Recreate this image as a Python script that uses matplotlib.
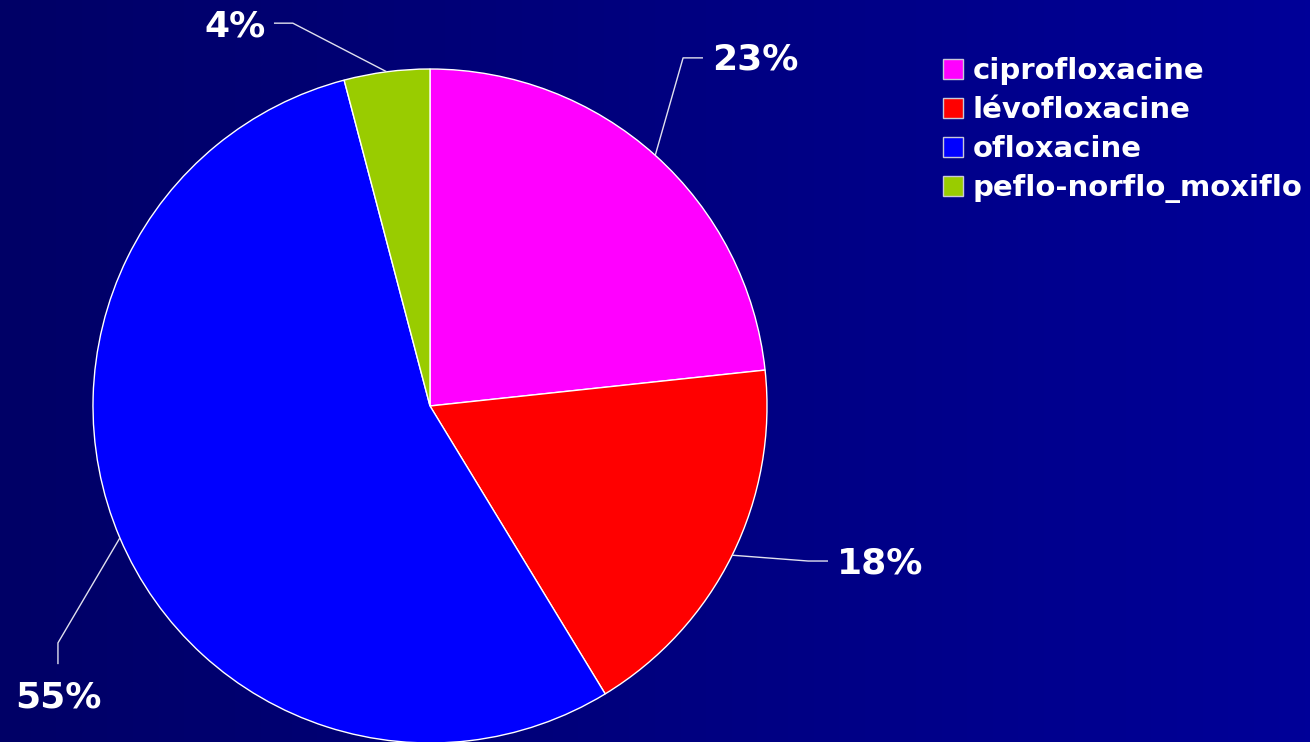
import numpy as np
import matplotlib
matplotlib.use("Agg")
import matplotlib.pyplot as plt
from matplotlib.patches import Patch
from matplotlib.colors import LinearSegmentedColormap

# ---- data ----
categories = ["ciprofloxacine", "lévofloxacine", "ofloxacine", "peflo-norflo_moxiflo"]
shares = [23.3, 18.0, 54.6, 4.1]
pct_labels = ["23%", "18%", "55%", "4%"]
colors = ["#FF00FF", "#FF0000", "#0000FF", "#99CC00"]

# label layout (data units, pie radius = 1): text centre, elbow, line end near text
text_pos = [(0.964, 1.027), (1.335, -0.466), (-1.104, -0.864), (-0.579, 1.125)]
elbow_pos = [(0.751, 1.033), (1.122, -0.460), (-1.104, -0.703), (-0.407, 1.136)]
end_pos = [(0.810, 1.033), (1.181, -0.460), (-1.104, -0.766), (-0.463, 1.136)]

W, H = 1310, 742
fig = plt.figure(figsize=(W / 100, H / 100), dpi=100)

# background gradient
bg = fig.add_axes([0, 0, 1, 1])
grad = np.linspace(0, 1, 256).reshape(1, -1)
cmap = LinearSegmentedColormap.from_list("bg", ["#000066", "#000098"])
bg.imshow(grad, aspect="auto", cmap=cmap, extent=[0, 1, 0, 1])
bg.set_axis_off()

ax = fig.add_axes([0, 0, 1, 1])
ax.set_axis_off()
cx, cy, R = 430, 406, 337

wedges, _ = ax.pie(shares, colors=colors, startangle=90, counterclock=False,
                   radius=1.0, center=(0, 0),
                   wedgeprops=dict(edgecolor="white", linewidth=1.0))
ax.set_aspect("equal", adjustable="datalim")
ax.set_xlim(-cx / R, (W - cx) / R)
ax.set_ylim(-(H - cy) / R, cy / R)

for w, lab, tp, ep, en in zip(wedges, pct_labels, text_pos, elbow_pos, end_pos):
    mid = np.deg2rad((w.theta1 + w.theta2) / 2)
    ax_pt = (np.cos(mid), np.sin(mid))
    ax.plot([ax_pt[0], ep[0], en[0]], [ax_pt[1], ep[1], en[1]],
            color="#e0e0ee", lw=1.0, solid_capstyle="butt")
    ax.text(tp[0], tp[1], lab, color="white", fontsize=26, fontweight="bold",
            family="DejaVu Sans", ha="center", va="center")

handles = [Patch(facecolor=c, edgecolor="#c8c8d8", linewidth=1.0) for c in colors]
leg = fig.legend(handles, categories, loc="upper left",
                 bbox_to_anchor=(943 / W, 1 - 57 / H), frameon=False,
                 prop=dict(family="DejaVu Sans", weight="bold", size=21),
                 handlelength=0.68, handleheight=0.68, handletextpad=0.33,
                 labelspacing=0.38, borderpad=0, borderaxespad=0)
for t in leg.get_texts():
    t.set_color("white")

fig.savefig("out.png", dpi=100)
